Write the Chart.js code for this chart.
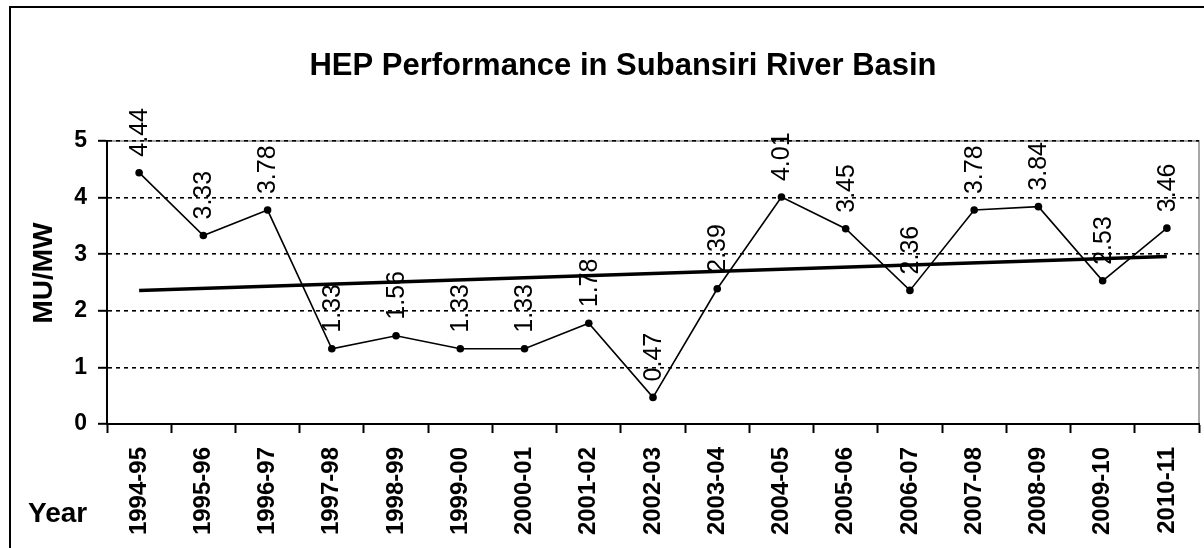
<!DOCTYPE html>
<html>
<head>
<meta charset="utf-8">
<script src="https://cdn.jsdelivr.net/npm/chart.js@4.4.1/dist/chart.umd.min.js"></script>
<style>
  html, body { margin: 0; padding: 0; background: #ffffff; }
  #wrap { position: relative; width: 1204px; height: 548px; }
</style>
</head>
<body>
<div id="wrap"><canvas id="c" width="1204" height="548"></canvas></div>
<script>
const categories = ['1994-95','1995-96','1996-97','1997-98','1998-99','1999-00','2000-01','2001-02','2002-03','2003-04','2004-05','2005-06','2006-07','2007-08','2008-09','2009-10','2010-11'];
const muPerMw = [4.44, 3.33, 3.78, 1.33, 1.56, 1.33, 1.33, 1.78, 0.47, 2.39, 4.01, 3.45, 2.36, 3.78, 3.84, 2.53, 3.46];
const trendEnds = [2.36, 2.96];
const yTicks = [0, 1, 2, 3, 4, 5];
const titleText = 'HEP Performance in Subansiri River Basin';
const yTitleText = 'MU/MW';
const xTitleText = 'Year';

const FONT = '"Liberation Sans", Arial, sans-serif';

const decorPlugin = {
  id: 'decor',
  beforeDraw(chart) {
    const ctx = chart.ctx;
    const a = chart.chartArea;
    ctx.save();
    ctx.strokeStyle = '#000';
    ctx.lineWidth = 2;
    ctx.beginPath();
    ctx.moveTo(10, 560);
    ctx.lineTo(10, 7);
    ctx.lineTo(1220, 7);
    ctx.stroke();
    ctx.strokeStyle = '#8c8c8c';
    ctx.lineWidth = 1.5;
    ctx.beginPath();
    ctx.moveTo(a.left, a.top);
    ctx.lineTo(a.right, a.top);
    ctx.lineTo(a.right, a.bottom);
    ctx.stroke();
    ctx.restore();
  },
  afterDraw(chart) {
    const ctx = chart.ctx;
    ctx.save();
    ctx.fillStyle = '#000';
    ctx.font = 'bold 31px ' + FONT;
    ctx.textAlign = 'center';
    ctx.textBaseline = 'alphabetic';
    ctx.fillText(titleText, 623, 75);
    ctx.font = 'bold 28px ' + FONT;
    ctx.textAlign = 'left';
    ctx.fillText(xTitleText, 28, 522);
    ctx.save();
    ctx.translate(52, 273);
    ctx.rotate(-Math.PI / 2);
    ctx.font = 'bold 28px ' + FONT;
    ctx.textAlign = 'center';
    ctx.textBaseline = 'alphabetic';
    ctx.fillText(yTitleText, 0, 0);
    ctx.restore();
    ctx.restore();
  },
  afterDatasetsDraw(chart) {
    const ctx = chart.ctx;
    const meta = chart.getDatasetMeta(1);
    ctx.save();
    ctx.fillStyle = '#000';
    ctx.font = '25px ' + FONT;
    ctx.textAlign = 'left';
    ctx.textBaseline = 'middle';
    meta.data.forEach((pt, i) => {
      ctx.save();
      ctx.translate(pt.x + 1, pt.y - 16);
      ctx.rotate(-Math.PI / 2);
      ctx.fillText(muPerMw[i].toFixed(2), 0, 0);
      ctx.restore();
    });
    ctx.restore();
  }
};

new Chart(document.getElementById('c'), {
  type: 'line',
  data: {
    labels: categories,
    datasets: [
      {
        label: 'Trend',
        data: [{ x: categories[0], y: trendEnds[0] }, { x: categories[categories.length - 1], y: trendEnds[1] }],
        borderColor: '#000',
        borderWidth: 3.5,
        pointRadius: 0,
        tension: 0,
        order: 2
      },
      {
        label: 'MU/MW',
        data: muPerMw,
        borderColor: '#000',
        backgroundColor: '#000',
        borderWidth: 1.6,
        pointRadius: 3.8,
        pointBackgroundColor: '#000',
        pointBorderWidth: 0,
        tension: 0,
        order: 1
      }
    ]
  },
  options: {
    responsive: false,
    animation: false,
    layout: { padding: { top: 141, left: 12, right: 5, bottom: 0 } },
    plugins: {
      legend: { display: false },
      tooltip: { enabled: false },
      title: { display: false }
    },
    scales: {
      x: {
        type: 'category',
        offset: true,
        afterFit(s) { s.height = 124; s.paddingLeft = 0; s.paddingRight = 0; },
        grid: {
          offset: true,
          drawOnChartArea: false,
          drawTicks: true,
          tickLength: 9,
          tickColor: '#000',
          tickWidth: 2
        },
        border: { display: true, color: '#000', width: 2 },
        ticks: {
          autoSkip: false,
          minRotation: 90,
          maxRotation: 90,
          padding: 14,
          color: '#000',
          font: { family: FONT, size: 24, weight: 'bold' }
        }
      },
      y: {
        min: 0,
        max: 5,
        afterFit(s) { s.width = 95; s.paddingTop = 0; s.paddingBottom = 0; },
        afterBuildTicks(s) { s.ticks = yTicks.map(v => ({ value: v })); },
        grid: {
          color: (c) => (c.tick && c.tick.value === 0) ? 'rgba(0,0,0,0)' : '#000',
          lineWidth: 1.6,
          drawTicks: true,
          tickLength: 9,
          tickColor: '#000',
          tickWidth: 2,
          tickBorderDash: []
        },
        border: { display: true, color: '#000', width: 2, dash: [4, 4] },
        title: { display: false },
        ticks: {
          stepSize: 1,
          padding: 11,
          color: '#000',
          font: { family: FONT, size: 23, weight: 'bold' }
        }
      }
    }
  },
  plugins: [decorPlugin]
});
</script>
</body>
</html>
